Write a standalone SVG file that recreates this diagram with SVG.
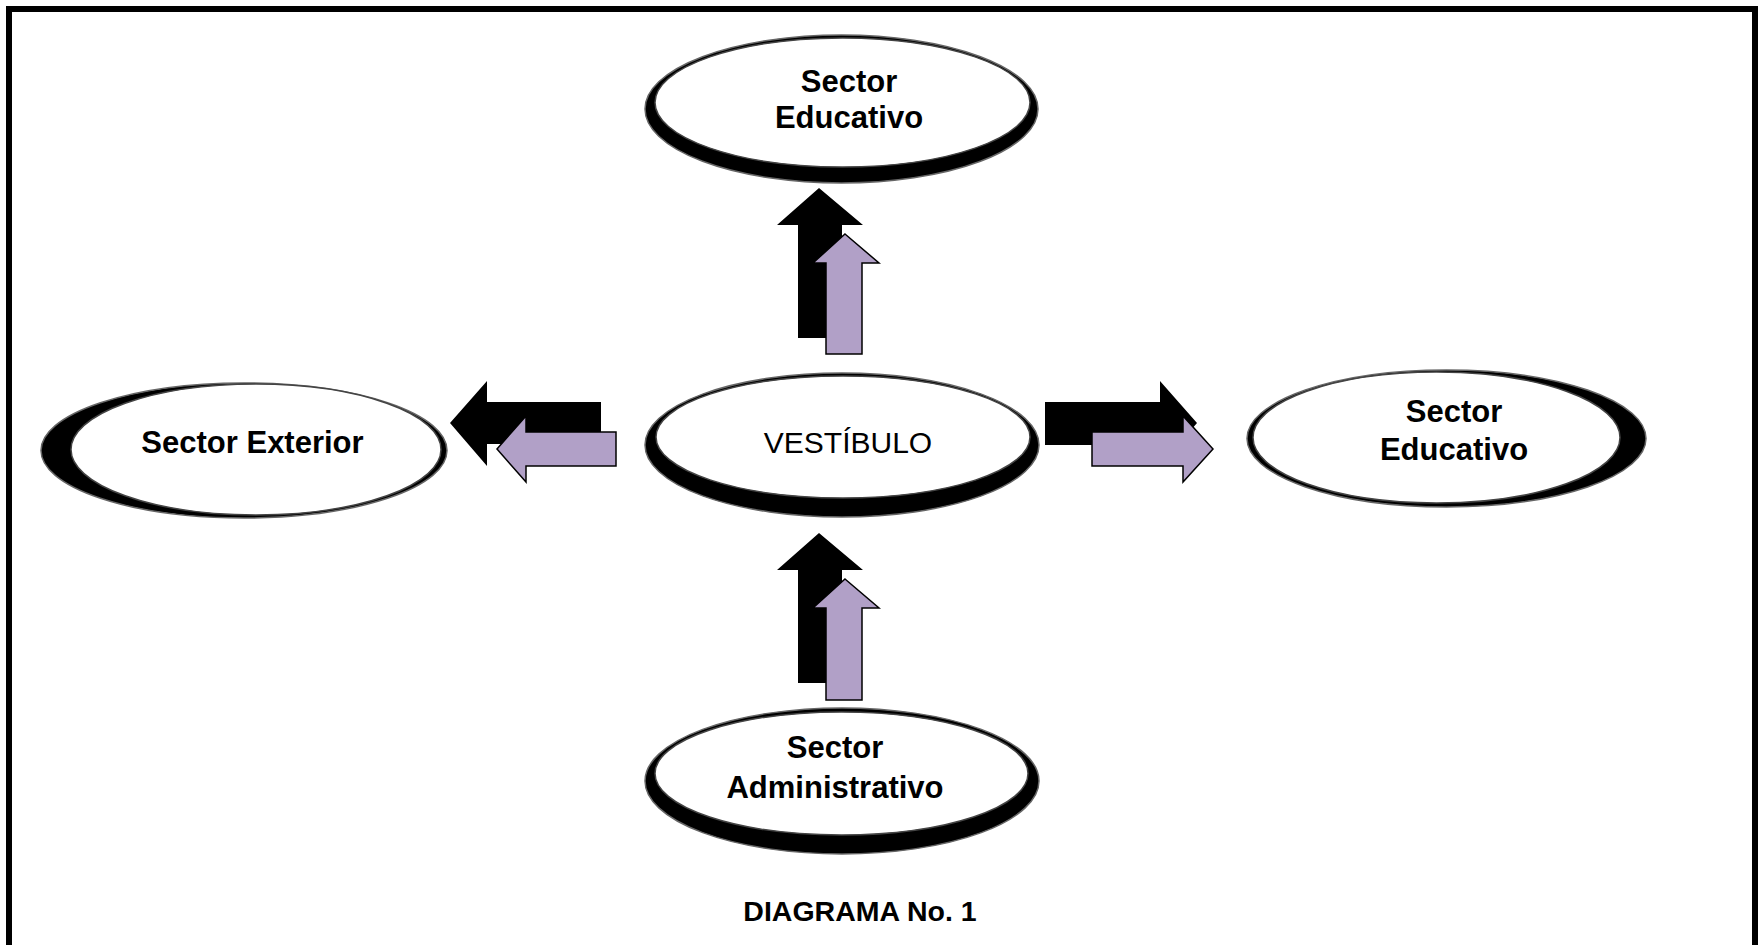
<svg xmlns="http://www.w3.org/2000/svg" width="1758" height="945" viewBox="0 0 1758 945">
<style>
.ring{fill:#000;stroke:#666;stroke-width:1.5}
.face{fill:#fff;stroke:#444;stroke-width:1.5}
.lbl{font-family:"Liberation Sans",Arial,sans-serif;font-weight:bold;font-size:31px;fill:#000;text-anchor:middle}
.reg{font-family:"Liberation Sans",Arial,sans-serif;font-size:30px;fill:#000;text-anchor:middle}
.blk{fill:#000}
.pur{fill:#B1A0C7;stroke:#000;stroke-width:1.5;stroke-linejoin:miter}
</style>
<rect x="0" y="0" width="1758" height="945" fill="#fff"/>
<rect x="9" y="9" width="1746" height="960" fill="none" stroke="#000" stroke-width="6"/>

<g id="connectors">
  <g id="arrows-up-top">
    <polygon class="blk" points="819,188 863,225 842,225 842,338 798,338 798,225 777,225"/>
    <polygon class="pur" points="845,234 879,263 862,263 862,354 826,354 826,263 813,263"/>
  </g>
  <g id="arrows-left">
    <polygon class="blk" points="450,423 487,381 487,402 601,402 601,444 487,444 487,466"/>
    <polygon class="pur" points="497,449 526,416 526,432 616,432 616,466 526,466 526,482"/>
  </g>
  <g id="arrows-right">
    <polygon class="blk" points="1197,423 1160,381 1160,402 1045,402 1045,445 1160,445 1160,466"/>
    <polygon class="pur" points="1213,449 1183,416 1183,432 1092,432 1092,466 1183,466 1183,482"/>
  </g>
  <g id="arrows-up-bottom">
    <polygon class="blk" points="819,533 863,570 842,570 842,683 798,683 798,570 777,570"/>
    <polygon class="pur" points="845,579 879,608 862,608 862,700 826,700 826,608 813,608"/>
  </g>
</g>

<g id="node-top">
  <ellipse class="ring" cx="841.5" cy="109" rx="196.5" ry="74"/>
  <ellipse class="face" cx="842.5" cy="102.5" rx="187.5" ry="64.5"/>
  <text class="lbl" x="849" y="92">Sector</text>
  <text class="lbl" x="849" y="128">Educativo</text>
</g>

<g id="node-center">
  <ellipse class="ring" cx="842" cy="445" rx="197" ry="72"/>
  <ellipse class="face" cx="843" cy="437" rx="187" ry="61"/>
  <text class="reg" x="848" y="453">VESTÍBULO</text>
</g>

<g id="node-left">
  <ellipse class="ring" cx="244" cy="450.5" rx="203" ry="67.5"/>
  <ellipse class="face" cx="256" cy="449.5" rx="185" ry="65.5"/>
  <text class="lbl" x="252.5" y="453">Sector Exterior</text>
</g>

<g id="node-right">
  <ellipse class="ring" cx="1446.5" cy="438.5" rx="199.5" ry="68.5"/>
  <ellipse class="face" cx="1436.5" cy="437.5" rx="183.5" ry="65.5"/>
  <text class="lbl" x="1454" y="422">Sector</text>
  <text class="lbl" x="1454" y="460">Educativo</text>
</g>

<g id="node-bottom">
  <ellipse class="ring" cx="842" cy="781" rx="197" ry="73"/>
  <ellipse class="face" cx="841.5" cy="773.5" rx="186.5" ry="61.5"/>
  <text class="lbl" x="835" y="758">Sector</text>
  <text class="lbl" x="835" y="798">Administrativo</text>
</g>

<text id="caption" class="lbl" style="font-size:28.5px" x="860" y="921">DIAGRAMA No. 1</text>
</svg>
